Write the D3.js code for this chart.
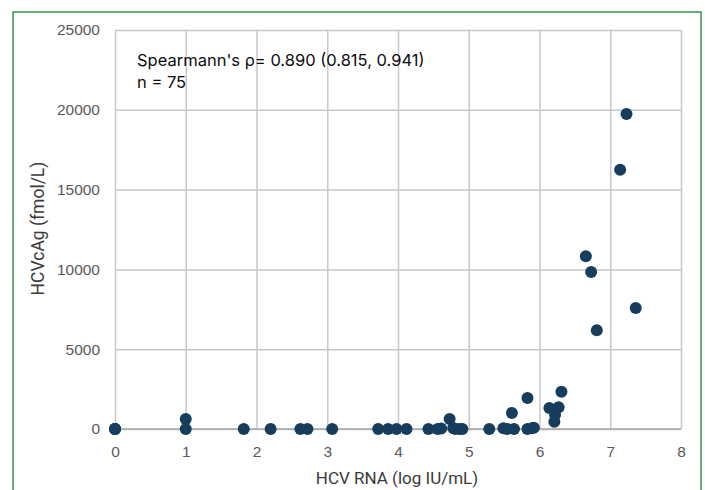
<!DOCTYPE html>
<html>
<head>
<meta charset="utf-8">
<script src="https://cdn.jsdelivr.net/npm/d3@7"></script>
<style>
  body { margin: 0; background: #fff; }
  svg { display: block; }
</style>
</head>
<body>
<svg width="705" height="490"></svg>
<script>
// HCV RNA (log IU/mL) vs HCVcAg (fmol/L)
var rna = [0, 0, 0, 1, 1, 1.82, 2.2, 2.62, 2.72, 3.07, 3.72, 3.86, 3.98, 4.12,
           4.43, 4.56, 4.61, 4.73, 4.78, 4.81, 4.87, 4.91, 5.29, 5.49, 5.54, 5.61, 5.64,
           5.83, 5.83, 5.9, 5.92, 6.14, 6.21, 6.22, 6.27, 6.31,
           6.655, 6.73, 6.81, 7.14, 7.23, 7.36];
var cag = [0, 0, 0, 625, 0, 0, 0, 0, 0, 0, 0, 0, 0, 0,
           0, 0, 30, 625, 60, 0, 0, 0, 0, 50, 0, 1000, 0,
           1940, 0, 60, 80, 1310, 460, 900, 1370, 2340,
           10830, 9830, 6190, 16250, 19730, 7580];

var xTicks = [0, 1, 2, 3, 4, 5, 6, 7, 8];
var yTicks = [0, 5000, 10000, 15000, 20000, 25000];
var notes = ["Spearmann's \u03c1= 0.890 (0.815, 0.941)", "n = 75"];

var svg = d3.select("svg");
var margin = {top: 30, left: 115, right: 24, bottom: 61};
var w = 705 - margin.left - margin.right;
var h = 490 - margin.top - margin.bottom;

// green frame
svg.append("rect")
    .attr("x", 13).attr("y", 12)
    .attr("width", 688).attr("height", 490)
    .attr("fill", "none")
    .attr("stroke", "#3b9350")
    .attr("stroke-width", 1.5);

var g = svg.append("g")
    .attr("transform", "translate(" + margin.left + "," + margin.top + ")");

var x = d3.scaleLinear().domain([0, 8]).range([0, w]);
var y = d3.scaleLinear().domain([0, 25000]).range([h, 0]);

// grid
g.append("g")
    .call(d3.axisBottom(x).tickValues(xTicks).tickSize(-h).tickFormat(""))
    .attr("transform", "translate(0," + h + ")")
    .call(function(a) {
        a.select(".domain").remove();
        a.selectAll("line").attr("stroke", "#c8c8c8").attr("stroke-width", 1.5);
    });
g.append("g")
    .call(d3.axisLeft(y).tickValues(yTicks).tickSize(-w).tickFormat(""))
    .call(function(a) {
        a.select(".domain").remove();
        a.selectAll("line").attr("stroke", "#c8c8c8").attr("stroke-width", 1.5);
    });

// zero line
g.append("line")
    .attr("x1", 0).attr("x2", w)
    .attr("y1", y(0)).attr("y2", y(0))
    .attr("stroke", "#a6a6a6").attr("stroke-width", 1.5);

// tick labels
var xa = g.append("g")
    .attr("transform", "translate(0," + h + ")")
    .call(d3.axisBottom(x).tickValues(xTicks).tickSize(0).tickPadding(17));
var ya = g.append("g")
    .call(d3.axisLeft(y).tickValues(yTicks).tickSize(0).tickPadding(15).tickFormat(d3.format("d")));
[xa, ya].forEach(function(a) {
    a.select(".domain").remove();
    a.selectAll("text")
        .attr("fill", "#595959")
        .style("font-family", "'Liberation Sans', Arial, sans-serif")
        .style("font-size", "15.5px");
});

// axis titles
g.append("text")
    .attr("x", w / 2 - 1).attr("y", h + 55)
    .attr("text-anchor", "middle")
    .attr("fill", "#3a3a3a")
    .style("font-family", "'Liberation Sans Narrow', 'Roboto', sans-serif")
    .style("font-size", "17px")
    .text("HCV RNA (log IU/mL)");
g.append("text")
    .attr("transform", "translate(" + (-71) + "," + (h / 2 - 1) + ") rotate(-90)")
    .attr("text-anchor", "middle")
    .attr("fill", "#3a3a3a")
    .style("font-family", "'Liberation Sans Narrow', 'Roboto', sans-serif")
    .style("font-size", "17.5px")
    .text("HCVcAg (fmol/L)");

// points
var pts = rna.map(function(v, i) { return {x: v, y: cag[i]}; });
g.selectAll(".dot")
    .data(pts)
    .enter().append("circle")
        .attr("class", "dot")
        .attr("cx", function(d) { return x(d.x); })
        .attr("cy", function(d) { return y(d.y); })
        .attr("r", 6)
        .attr("fill", "#173d5e");

// annotation
g.selectAll(".note")
    .data(notes)
    .enter().append("text")
        .attr("class", "note")
        .attr("x", 22)
        .attr("y", function(d, i) { return 36 + i * 22; })
        .attr("fill", "#0d0d0d")
        .style("font-family", "Inter, 'Noto Sans', sans-serif")
        .style("font-size", "16.5px")
        .text(function(d) { return d; });
</script>
</body>
</html>
